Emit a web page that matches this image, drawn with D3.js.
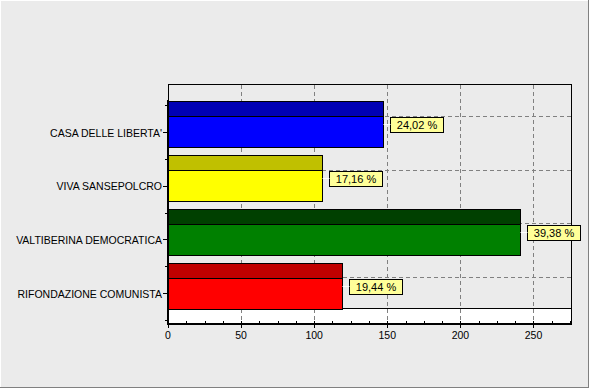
<!DOCTYPE html>
<html>
<head>
<meta charset="utf-8">
<script src="https://cdn.jsdelivr.net/npm/d3@7"></script>
<style>
  body { margin: 0; background: #ebebeb; }
  text { font-family: "Liberation Sans", Arial, sans-serif; font-size: 10.5px; fill: #000; }
</style>
</head>
<body>
<div id="chart"></div>
<script>
var categories = ["CASA DELLE LIBERTA'", "VIVA SANSEPOLCRO", "VALTIBERINA DEMOCRATICA", "RIFONDAZIONE COMUNISTA"];
var values = [147, 105, 241, 119];
var percentLabels = ["24,02 %", "17,16 %", "39,38 %", "19,44 %"];
var frontColors = ["#0000ff", "#ffff00", "#008000", "#ff0000"];
var topColors = ["#0000b4", "#c0c000", "#004000", "#c00000"];
var xTicks = [0, 50, 100, 150, 200, 250];

var width = 589, height = 388;
var plotLeft = 168, plotRight = 571.5, plotTop = 84, plotBottom = 324;
var depth = 16;
var barFront = 31, barTop = 15;

var svg = d3.select("#chart").append("svg")
    .attr("width", width)
    .attr("height", height);

// panel with bevel
svg.append("rect").attr("x", 0).attr("y", 0).attr("width", width).attr("height", height).attr("fill", "#ebebeb");
svg.append("line").attr("x1", 0).attr("y1", 0.5).attr("x2", width).attr("y2", 0.5).attr("stroke", "#fff");
svg.append("line").attr("x1", 0.5).attr("y1", 0).attr("x2", 0.5).attr("y2", height).attr("stroke", "#fff");
svg.append("line").attr("x1", 0).attr("y1", height - 0.5).attr("x2", width).attr("y2", height - 0.5).attr("stroke", "#808080");
svg.append("line").attr("x1", width - 0.5).attr("y1", 0).attr("x2", width - 0.5).attr("y2", height).attr("stroke", "#808080");

var x = d3.scaleLinear().domain([0, 276]).range([plotLeft, plotRight]);
var y = d3.scaleBand().domain(categories).range([105, 320]).padding(0);
function yc(d) { return y(d) + y.bandwidth() / 2; }

// back wall
svg.append("rect")
    .attr("x", plotLeft + 0.5).attr("y", plotTop + 0.5)
    .attr("width", plotRight - plotLeft - 0.5).attr("height", plotBottom - depth - plotTop)
    .attr("fill", "#ebebeb").attr("stroke", "#000");

// floor
svg.append("rect")
    .attr("x", plotLeft).attr("y", plotBottom - depth + 0.5)
    .attr("width", plotRight - plotLeft).attr("height", depth - 0.5)
    .attr("fill", "#fff").attr("stroke", "#000");

// vertical grid
svg.append("g").selectAll("line")
    .data(xTicks.filter(function (d) { return d > 0; }))
    .enter().append("line")
    .attr("x1", function (d) { return Math.round(x(d)) + 0.5; })
    .attr("x2", function (d) { return Math.round(x(d)) + 0.5; })
    .attr("y1", plotTop + 1).attr("y2", plotBottom - 1)
    .attr("stroke", "#808080").attr("stroke-dasharray", "4,3");

// horizontal grid on back wall
svg.append("g").selectAll("line")
    .data(categories)
    .enter().append("line")
    .attr("x1", plotLeft).attr("x2", plotRight)
    .attr("y1", function (d) { return Math.round(yc(d) - depth) + 0.5; })
    .attr("y2", function (d) { return Math.round(yc(d) - depth) + 0.5; })
    .attr("stroke", "#808080").attr("stroke-dasharray", "4,3");

// bars: top face then front face
var bars = svg.append("g").selectAll("g")
    .data(categories)
    .enter().append("g");

bars.append("rect")
    .attr("x", plotLeft + 0.5)
    .attr("y", function (d) { return Math.round(yc(d) - barFront / 2 - barTop) + 0.5; })
    .attr("width", function (d, i) { return Math.round(x(values[i]) - plotLeft); })
    .attr("height", barTop)
    .attr("fill", function (d, i) { return topColors[i]; })
    .attr("stroke", "#000");

bars.append("rect")
    .attr("x", plotLeft + 0.5)
    .attr("y", function (d) { return Math.round(yc(d) - barFront / 2) + 0.5; })
    .attr("width", function (d, i) { return Math.round(x(values[i]) - plotLeft); })
    .attr("height", barFront)
    .attr("fill", function (d, i) { return frontColors[i]; })
    .attr("stroke", "#000");

// value labels
bars.each(function (d, i) {
    var g = d3.select(this);
    var xe = Math.round(x(values[i])) + 0.5;
    var cy = Math.round(yc(d) - barTop / 2) + 0.5;
    var t = g.append("text")
        .attr("text-anchor", "middle")
        .attr("dy", "0.35em")
        .style("font-size", "11px")
        .text(percentLabels[i]);
    var w = Math.ceil(t.node().getComputedTextLength()) + 12;
    var bx = xe + 7;
    g.append("line")
        .attr("x1", xe).attr("x2", bx)
        .attr("y1", cy).attr("y2", cy)
        .attr("stroke", "#fff");
    g.insert("rect", "text")
        .attr("x", bx).attr("y", cy - 7)
        .attr("width", w).attr("height", 15)
        .attr("fill", "#ffff99").attr("stroke", "#000");
    t.attr("x", bx + w / 2).attr("y", cy + 0.5);
});

// left axis
svg.append("line")
    .attr("x1", plotLeft).attr("x2", plotLeft)
    .attr("y1", plotTop + depth).attr("y2", plotBottom + 1)
    .attr("stroke", "#000").attr("stroke-width", 2);
svg.append("line")
    .attr("x1", plotLeft + 0.5).attr("x2", plotLeft + 0.5)
    .attr("y1", plotTop).attr("y2", plotTop + depth)
    .attr("stroke", "#000");

var yAxis = svg.append("g");
yAxis.selectAll("line.major")
    .data(categories)
    .enter().append("line")
    .attr("x1", plotLeft - 5).attr("x2", plotLeft - 1)
    .attr("y1", function (d) { return Math.round(yc(d)) + 0.5; })
    .attr("y2", function (d) { return Math.round(yc(d)) + 0.5; })
    .attr("stroke", "#000");
yAxis.selectAll("line.minor")
    .data(d3.range(categories.length + 1))
    .enter().append("line")
    .attr("x1", plotLeft - 3).attr("x2", plotLeft - 1)
    .attr("y1", function (d) { return Math.round(y.range()[0] + d * y.step()) + 0.5; })
    .attr("y2", function (d) { return Math.round(y.range()[0] + d * y.step()) + 0.5; })
    .attr("stroke", "#000");
yAxis.selectAll("text")
    .data(categories)
    .enter().append("text")
    .attr("x", plotLeft - 6)
    .attr("y", function (d) { return yc(d) + 1; })
    .attr("dy", "0.35em")
    .attr("text-anchor", "end")
    .text(function (d) { return d; });

// bottom axis
svg.append("line")
    .attr("x1", plotLeft - 1).attr("x2", plotRight + 0.5)
    .attr("y1", plotBottom).attr("y2", plotBottom)
    .attr("stroke", "#000").attr("stroke-width", 2);

svg.append("g").selectAll("line")
    .data(d3.range(0, 276, 12.5))
    .enter().append("line")
    .attr("x1", function (d) { return Math.round(x(d)) + 0.5; })
    .attr("x2", function (d) { return Math.round(x(d)) + 0.5; })
    .attr("y1", plotBottom - 3).attr("y2", plotBottom)
    .attr("stroke", "#000");

var xAxis = svg.append("g");
xAxis.selectAll("line")
    .data(xTicks)
    .enter().append("line")
    .attr("x1", function (d) { return Math.round(x(d)) + 0.5; })
    .attr("x2", function (d) { return Math.round(x(d)) + 0.5; })
    .attr("y1", plotBottom).attr("y2", plotBottom + 4)
    .attr("stroke", "#000");
xAxis.selectAll("text")
    .data(xTicks)
    .enter().append("text")
    .attr("x", function (d) { return x(d); })
    .attr("y", plotBottom + 15)
    .attr("text-anchor", "middle")
    .text(function (d) { return d; });
</script>
</body>
</html>
